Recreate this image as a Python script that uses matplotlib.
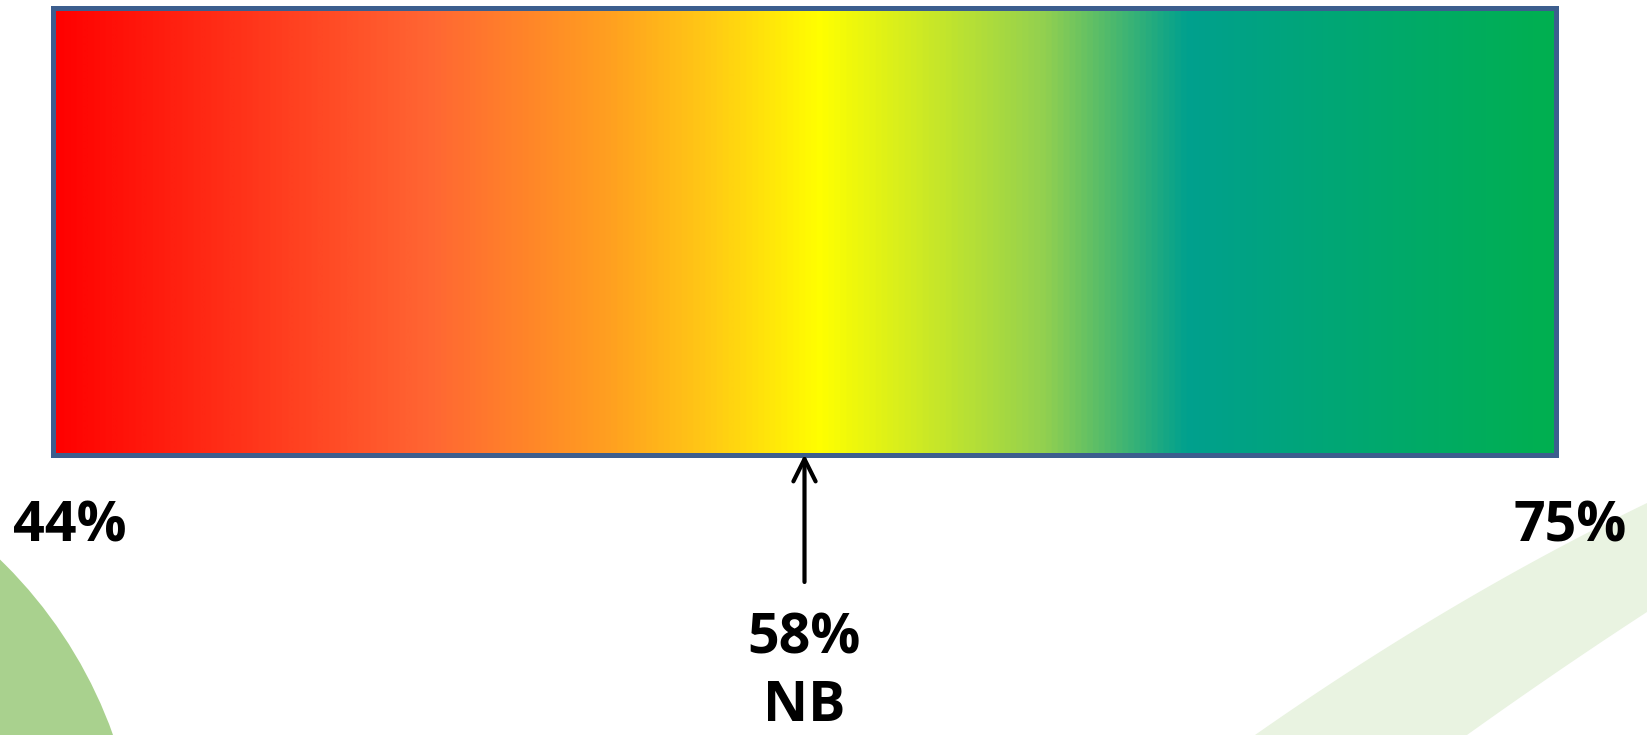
import numpy as np
import matplotlib
matplotlib.use("Agg")
import matplotlib.pyplot as plt
from matplotlib.colors import LinearSegmentedColormap
from matplotlib.patches import Circle, Polygon

# ---- data ----
scale_min_label = "44%"
scale_max_label = "75%"
marker_label = "58%"
marker_group = "NB"
marker_position = 0.5          # position of the arrow along the bar (0 = left, 1 = right)
gradient_stops = [0.0, 0.25, 0.37, 0.44, 0.51, 0.66, 0.755, 1.0]
gradient_colors = ["#ff0000", "#ff6633", "#ffa020", "#ffcc14", "#ffff00",
                   "#92d050", "#00a08e", "#00b050"]

W, H = 1647, 735
fig = plt.figure(figsize=(W / 100, H / 100), dpi=100)
fig.patch.set_facecolor("white")

# background decoration (pixel coordinates)
bg = fig.add_axes([0, 0, 1, 1])
bg.set_xlim(0, W)
bg.set_ylim(H, 0)
bg.axis("off")
bg.add_patch(Circle((-320, 890), 460, facecolor="#a9d18e", edgecolor="none"))

def smooth_edge(pts, xs):
    px, py = zip(*pts)
    c = np.polyfit(px, py, 2)
    return np.column_stack([xs, np.polyval(c, xs)])

upper = smooth_edge([(1255, 735), (1467, 599), (1647, 503)], np.linspace(1255, 1647, 60))
lower = smooth_edge([(1467, 735), (1560, 670), (1647, 612)], np.linspace(1647, 1467, 40))
bg.add_patch(Polygon(np.vstack([upper, lower]), closed=True,
                     facecolor="#e9f3e1", edgecolor="none"))

# gradient bar
x0, x1, y0, y1 = 52.5, 1556.5, 7.5, 454.5
ax = fig.add_axes([x0 / W, 1 - y1 / H, (x1 - x0) / W, (y1 - y0) / H])
cmap = LinearSegmentedColormap.from_list("grad", list(zip(gradient_stops, gradient_colors)))
grad = np.linspace(0, 1, 1024).reshape(1, -1)
ax.imshow(grad, cmap=cmap, aspect="auto", extent=[0, 1, 0, 1], interpolation="bilinear")
ax.set_xlim(0, 1)
ax.set_ylim(0, 1)
ax.set_xticks([])
ax.set_yticks([])
for s in ax.spines.values():
    s.set_color("#3c5e8e")
    s.set_linewidth(3.6)

bar_h = y1 - y0
def below(px):
    return -(px - y1) / bar_h

font = dict(family=["Open Sans", "DejaVu Sans"], fontweight="bold", fontsize=40, color="black")

ax.text((13 - x0) / (x1 - x0), below(541), scale_min_label, ha="left", va="baseline",
        transform=ax.transAxes, clip_on=False, **font)
ax.text((1627 - x0) / (x1 - x0), below(541), scale_max_label, ha="right", va="baseline",
        transform=ax.transAxes, clip_on=False, **font)

ax.annotate("", xy=(marker_position, 0), xycoords="axes fraction",
            xytext=(marker_position, below(582)), textcoords="axes fraction",
            arrowprops=dict(arrowstyle="->", color="black", lw=3.0,
                            mutation_scale=40, shrinkA=0, shrinkB=0),
            annotation_clip=False)
ax.text(marker_position, below(653), marker_label, ha="center", va="baseline",
        transform=ax.transAxes, clip_on=False, **font)
ax.text(marker_position, below(721), marker_group, ha="center", va="baseline",
        transform=ax.transAxes, clip_on=False, **font)

fig.savefig("out.png", dpi=100)
